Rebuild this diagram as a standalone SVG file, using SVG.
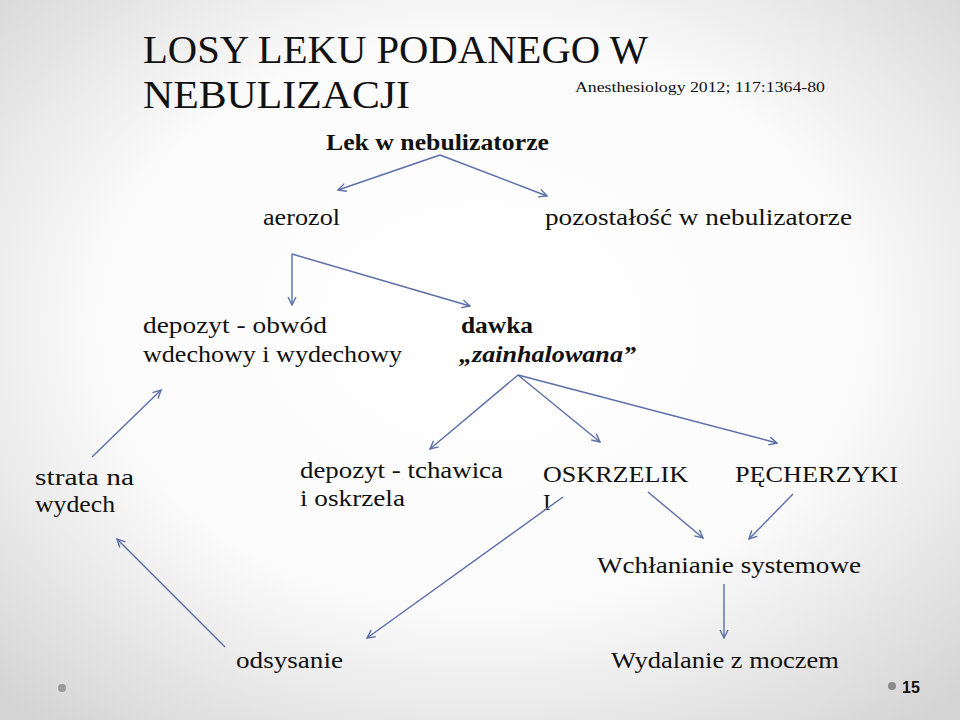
<svg xmlns="http://www.w3.org/2000/svg" width="960" height="720" viewBox="0 0 960 720">
<defs>
<radialGradient id="bg" cx="50%" cy="45%" r="72%">
<stop offset="0" stop-color="#ffffff"/>
<stop offset="0.55" stop-color="#fbfbfb"/>
<stop offset="1" stop-color="#d4d4d4"/>
</radialGradient>
<marker id="arr" viewBox="0 0 10 10" refX="9" refY="5" markerWidth="10" markerHeight="10" markerUnits="userSpaceOnUse" orient="auto">
<path d="M1,1 L9,5 L1,9" fill="none" stroke="#5a6ea8" stroke-width="1.4"/>
</marker>
<style>
text{fill:#111;}
.b{font-size:23px;}
.bold{font-weight:bold;}
.c{stroke:#5a6ea8;stroke-width:1.4;fill:none;marker-end:url(#arr);}
</style>
</defs>
<rect width="960" height="720" fill="url(#bg)"/>

<g id="title" font-family="Liberation Serif, serif">
<text x="143" y="63" font-size="40" textLength="505" lengthAdjust="spacingAndGlyphs">LOSY LEKU PODANEGO W</text>
<text x="143" y="108" font-size="40" textLength="267" lengthAdjust="spacingAndGlyphs">NEBULIZACJI</text>
</g>
<g id="source" font-family="Liberation Serif, serif">
<text x="575" y="92" font-size="15" textLength="250" lengthAdjust="spacingAndGlyphs">Anesthesiology 2012; 117:1364-80</text>
</g>

<g id="lek" font-family="Liberation Serif, serif">
<text class="bold" x="326" y="150" font-size="23" textLength="223" lengthAdjust="spacingAndGlyphs">Lek w nebulizatorze</text>
</g>
<g id="aerozol" font-family="Liberation Serif, serif">
<text class="b" x="263" y="225" textLength="77" lengthAdjust="spacingAndGlyphs">aerozol</text>
</g>
<g id="pozostalosc" font-family="Liberation Serif, serif">
<text class="b" x="545" y="225" textLength="307" lengthAdjust="spacingAndGlyphs">pozostałość w nebulizatorze</text>
</g>
<g id="depozyt-obwod" font-family="Liberation Serif, serif">
<text class="b" x="143" y="333" textLength="184" lengthAdjust="spacingAndGlyphs">depozyt  - obwód</text>
<text class="b" x="143" y="362" textLength="259" lengthAdjust="spacingAndGlyphs">wdechowy i wydechowy</text>
</g>
<g id="dawka" font-family="Liberation Serif, serif">
<text class="b bold" x="461" y="333" textLength="72" lengthAdjust="spacingAndGlyphs">dawka</text>
<text class="b bold" x="459" y="362" font-style="italic" textLength="177" lengthAdjust="spacingAndGlyphs">„zainhalowana”</text>
</g>
<g id="strata" font-family="Liberation Serif, serif">
<text class="b" x="35" y="485" textLength="99" lengthAdjust="spacingAndGlyphs">strata na</text>
<text class="b" x="35" y="512" textLength="80" lengthAdjust="spacingAndGlyphs">wydech</text>
</g>
<g id="depozyt-tchawica" font-family="Liberation Serif, serif">
<text class="b" x="300" y="478" textLength="203" lengthAdjust="spacingAndGlyphs">depozyt - tchawica</text>
<text class="b" x="300" y="506" textLength="105" lengthAdjust="spacingAndGlyphs">i oskrzela</text>
</g>
<g id="oskrzeliki" font-family="Liberation Serif, serif">
<text class="b" x="543" y="482" textLength="145" lengthAdjust="spacingAndGlyphs">OSKRZELIK</text>
<text class="b" x="543" y="510">I</text>
</g>
<g id="pecherzyki" font-family="Liberation Serif, serif">
<text class="b" x="735" y="482" textLength="163" lengthAdjust="spacingAndGlyphs">PĘCHERZYKI</text>
</g>
<g id="wchlanianie" font-family="Liberation Serif, serif">
<text class="b" x="597" y="573" textLength="264" lengthAdjust="spacingAndGlyphs">Wchłanianie systemowe</text>
</g>
<g id="odsysanie" font-family="Liberation Serif, serif">
<text class="b" x="236" y="668" textLength="107" lengthAdjust="spacingAndGlyphs">odsysanie</text>
</g>
<g id="wydalanie" font-family="Liberation Serif, serif">
<text class="b" x="611" y="668" textLength="228" lengthAdjust="spacingAndGlyphs">Wydalanie z moczem</text>
</g>

<g id="connectors">
<line class="c" x1="440" y1="155" x2="338" y2="190"/>
<line class="c" x1="440" y1="155" x2="547" y2="196"/>
<polyline class="c" points="292,254 292,305"/>
<line class="c" x1="292" y1="254" x2="470" y2="306"/>
<line class="c" x1="518" y1="375" x2="430" y2="449"/>
<line class="c" x1="518" y1="375" x2="600" y2="442"/>
<line class="c" x1="518" y1="375" x2="777" y2="443"/>
<line class="c" x1="92" y1="457" x2="161" y2="390"/>
<line class="c" x1="563" y1="497" x2="367" y2="638"/>
<line class="c" x1="225" y1="647" x2="117" y2="539"/>
<line class="c" x1="648" y1="492" x2="703" y2="538"/>
<line class="c" x1="793" y1="494" x2="749" y2="539"/>
<line class="c" x1="724" y1="584" x2="724" y2="638"/>
</g>

<g id="footer">
<circle cx="62" cy="688" r="4" fill="#9a9a9a"/>
<circle cx="892" cy="686" r="4" fill="#8a8a8a"/>
<text x="902" y="693" font-family="Liberation Sans, Arial, sans-serif" font-size="16" font-weight="bold" fill="#555">15</text>
</g>
</svg>
